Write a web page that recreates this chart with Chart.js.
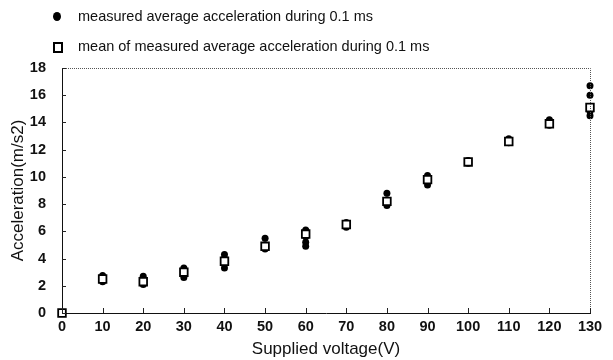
<!DOCTYPE html>
<html><head><meta charset="utf-8">
<script src="https://cdn.jsdelivr.net/npm/chart.js@4.4.0/dist/chart.umd.min.js"></script>
<style>
html,body{margin:0;padding:0;background:#fff;}
#wrap{position:relative;width:613px;height:360px;}
canvas{position:absolute;left:0;top:0;}
.leg{position:absolute;left:78px;font-family:"Liberation Sans",Arial,sans-serif;font-size:14.5px;color:#111;white-space:nowrap;line-height:16px;}
.dot{position:absolute;left:53px;top:12px;width:8px;height:9px;border-radius:50%;background:#000;}
.sq{position:absolute;left:53px;top:42px;width:6px;height:7px;border:2px solid #000;background:#fff;}
</style></head>
<body><div id="wrap"><canvas id="c" width="613" height="360"></canvas>
<div class="dot"></div><div class="leg" style="top:8px">measured average acceleration during 0.1 ms</div>
<div class="sq"></div><div class="leg" style="top:38px">mean of measured average acceleration during 0.1 ms</div>
</div>
<script>
const voltages = [0,10,20,30,40,50,60,70,80,90,100,110,120,130];
const meanAccel = [0,2.5,2.3,3.0,3.8,4.9,5.8,6.5,8.2,9.8,11.1,12.6,13.9,15.1];
const measuredVolt = [10,10,10, 20,20,20, 30,30,30, 40,40,40,40, 50,50,50, 60,60,60,60, 70,70, 80,80,80, 90,90,90, 100,100, 110,110, 120,120, 130,130,130,130];
const measuredAccel = [2.3,2.5,2.75, 2.1,2.4,2.7, 2.6,3.0,3.3, 3.3,3.7,4.0,4.3, 4.7,5.0,5.5, 4.9,5.2,5.6,6.1, 6.3,6.65, 7.9,8.3,8.8, 9.4,9.8,10.1, 11.0,11.2, 12.5,12.8, 13.8,14.2, 14.5,14.8,16.0,16.7];
const xTicks = [0,10,20,30,40,50,60,70,80,90,100,110,120,130];
const yTicks = [0,2,4,6,8,10,12,14,16,18];

const frame = {
  id:'frame',
  afterDraw(chart){
    const {ctx, chartArea:a, scales:{x,y}} = chart;
    ctx.save();
    ctx.strokeStyle='#555'; ctx.lineWidth=1; ctx.setLineDash([1,1]);
    ctx.beginPath();
    ctx.moveTo(a.left, a.top+0.5); ctx.lineTo(a.right+0.5, a.top+0.5); ctx.lineTo(a.right+0.5, a.bottom);
    ctx.stroke();
    ctx.setLineDash([]); ctx.strokeStyle='#222';
    ctx.beginPath();
    yTicks.forEach(v=>{const py=Math.round(y.getPixelForValue(v))+0.5; ctx.moveTo(a.left,py); ctx.lineTo(a.left+4,py);});
    xTicks.forEach(v=>{const px=Math.round(x.getPixelForValue(v))+0.5; ctx.moveTo(px,a.bottom); ctx.lineTo(px,a.bottom-5);});
    ctx.stroke();
    ctx.restore();
  }
};

const tickFont = {family:'"Liberation Sans", Arial, sans-serif', size:14.5, weight:'bold'};
const titleFont = {family:'"Liberation Sans", Arial, sans-serif', size:17};
new Chart(document.getElementById('c'), {
  type:'scatter',
  data:{datasets:[
    {label:'mean of measured average acceleration during 0.1 ms', order:0, clip:false,
     data:voltages.map((v,i)=>({x:v,y:meanAccel[i]})),
     pointStyle:'rect', pointRadius:5.4, backgroundColor:'#fff', borderColor:'#000', borderWidth:1.8},
    {label:'measured average acceleration during 0.1 ms', order:1, clip:false,
     data:measuredVolt.map((v,i)=>({x:v,y:measuredAccel[i]})),
     pointStyle:'circle', pointRadius:3.5, backgroundColor:'#000', borderColor:'#000', borderWidth:0}
  ]},
  options:{
    responsive:false, animation:false, devicePixelRatio:1,
    layout:{padding:{left:0,right:23,top:68,bottom:0}},
    plugins:{legend:{display:false}, tooltip:{enabled:false}},
    scales:{
      x:{type:'linear', min:0, max:130,
         afterFit(s){s.height=47;},
         afterBuildTicks(s){s.ticks=xTicks.map(v=>({value:v}));},
         grid:{display:true, drawOnChartArea:false, drawTicks:false},
         border:{display:true,color:'#111',width:1},
         ticks:{padding:5, color:'#111', font:tickFont, autoSkip:false, maxRotation:0},
         title:{display:true, text:'Supplied voltage(V)', color:'#111', font:titleFont, padding:{top:0,bottom:0}}},
      y:{type:'linear', min:0, max:18,
         afterFit(s){s.width=62;},
         afterBuildTicks(s){s.ticks=yTicks.map(v=>({value:v}));},
         grid:{display:true, drawOnChartArea:false, drawTicks:false},
         border:{display:true,color:'#111',width:1},
         ticks:{padding:16, color:'#111', font:tickFont},
         title:{display:true, text:'Acceleration(m/s2)', color:'#111', font:titleFont, padding:{top:8,bottom:0}}}
    }
  },
  plugins:[frame]
});
</script></body></html>
